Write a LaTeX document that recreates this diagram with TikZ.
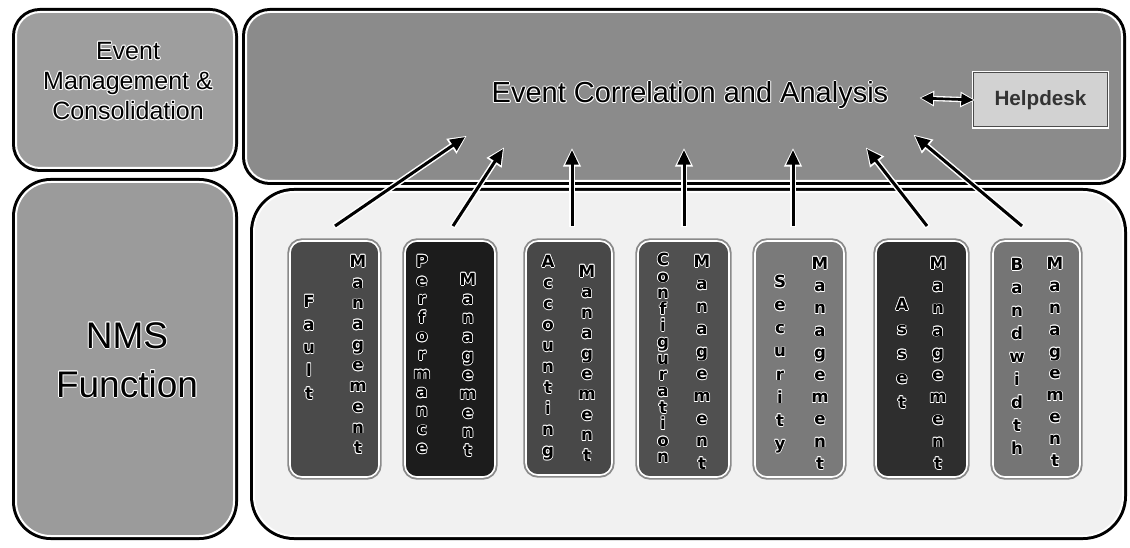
\documentclass[tikz,border=0pt]{standalone}
\usepackage{fontspec}
\setmainfont{Liberation Sans}
\newfontfamily\colfont{DejaVu Sans}
\usetikzlibrary{arrows.meta,fit}
\definecolor{emcfill}{HTML}{9E9E9E}
\definecolor{ecafill}{HTML}{8B8B8B}
\definecolor{nmsfill}{HTML}{9B9B9B}
\definecolor{areafill}{HTML}{F1F1F1}
\definecolor{helpfill}{HTML}{D2D2D2}
\definecolor{cfault}{HTML}{4A4A4A}
\definecolor{cperf}{HTML}{1C1C1C}
\definecolor{cacc}{HTML}{484848}
\definecolor{cconf}{HTML}{505050}
\definecolor{csec}{HTML}{7A7A7A}
\definecolor{casset}{HTML}{2E2E2E}
\definecolor{cband}{HTML}{757575}
\definecolor{colrim}{HTML}{8A8A8A}
\newdimen\halor \halor=0.75pt
\newcommand\hcp[3]{\rlap{\kern#1\halor\raise#2\halor\hbox{#3}}}
\newcommand\halo[1]{\leavevmode\rlap{\smash{\color{white}%
  \hcp{1}{0}{#1}\hcp{-1}{0}{#1}\hcp{0}{1}{#1}\hcp{0}{-1}{#1}%
  \hcp{.7}{.7}{#1}\hcp{-.7}{.7}{#1}\hcp{.7}{-.7}{#1}\hcp{-.7}{-.7}{#1}}}#1}
\ExplSyntaxOn
\NewDocumentCommand\vword{mm}{
  \vbox{\baselineskip=\dimexpr #1pt*3/4\relax
        \lineskip=0pt \lineskiplimit=-100pt
        \tl_map_inline:nn {#2} {\hbox to 2em{\hss\halo{##1}\hss}}}
}
\ExplSyntaxOff
\tikzset{
  panel/.style={inner sep=0pt, draw=white, line width=1.5pt,
    preaction={draw=black, line width=6pt}},
  colbox/.style={inner sep=0pt, draw=white, line width=1.2pt,
    preaction={draw=colrim, line width=4pt}, rounded corners=9pt},
  colword/.style={inner sep=0pt, anchor=north,
    font=\colfont\bfseries\fontsize{12.5}{12.5}\selectfont},
  halotip/.style={draw=white, line width=4.5pt,
    -{Triangle[length=14pt,width=12.5pt]}, shorten >=-1.6pt, shorten <=-1pt},
  blacktip/.style={draw=black, line width=2.25pt,
    -{Triangle[length=11pt,width=9.5pt]}},
}
\begin{document}
\begin{tikzpicture}[x=0.75pt,y=-0.75pt]
\useasboundingbox[fill=white] (0,0) rectangle (1130,548);
% big panels
\node[panel, fill=emcfill, rounded corners=18pt, fit={(16,12) (234,168)}] (emc) {};
\node[panel, fill=ecafill, rounded corners=18pt, fit={(246,12) (1122,181)}] (eca) {};
\node[panel, fill=nmsfill, rounded corners=26pt, fit={(16,182) (234,536)}] (nms) {};
\node[panel, fill=areafill, rounded corners=30pt, fit={(254,192) (1123,536)}] (area) {};
% panel texts
\node[align=center, font=\fontsize{18.75}{22.5}\selectfont] (emct) at (128,81)
  {\halo{Event}\\\halo{Management \&}\\\halo{Consolidation}};
\node[align=center, font=\fontsize{27.75}{36.75}\selectfont] (nmst) at (127,360)
  {\halo{NMS}\\\halo{Function}};
\node[anchor=base, inner sep=0pt, font=\fontsize{21.75}{26}\selectfont] (ecat) at (690,103)
  {\halo{Event Correlation and Analysis}};
\node[inner sep=0pt, fill=helpfill, draw=black!70, line width=0.75pt,
  preaction={draw=white, line width=3pt},
  minimum width=100pt, minimum height=40.5pt,
  font=\bfseries\fontsize{15.5}{16}\selectfont, text=black!80] (help) at (1040.5,100) {Helpdesk};
% columns
\node[colbox, fill=cfault, fit={(290,241) (379,477)}] (fault) {};
\node[colbox, fill=cperf,  fit={(405,241) (495,477)}] (perf) {};
\node[colbox, fill=cacc,   fit={(526,241) (612,475)}] (acc) {};
\node[colbox, fill=cconf,  fit={(638,241) (729,477)}] (conf) {};
\node[colbox, fill=csec,   fit={(755,241) (844,477)}] (sec) {};
\node[colbox, fill=casset, fit={(876,241) (967,477)}] (asset) {};
\node[colbox, fill=cband,  fit={(993,241) (1080,477)}] (band) {};
% column words
\begingroup
\halor=0.6pt
\node[colword] (w1a) at (309,295) {\vword{23}{Fault}};
\node[colword] (w1b) at (358,255) {\vword{20.7}{Management}};
\node[colword] (w2a) at (422,255) {\vword{18.6}{Performance}};
\node[colword] (w2b) at (468,273) {\vword{19}{Management}};
\node[colword] (w3a) at (548,255) {\vword{21}{Accounting}};
\node[colword] (w3b) at (587,265) {\vword{20.4}{Management}};
\node[colword] (w4a) at (663,253) {\vword{16.4}{Configuration}};
\node[colword] (w4b) at (702,255) {\vword{22.4}{Management}};
\node[colword] (w5a) at (780,275) {\vword{23.1}{Security}};
\node[colword] (w5b) at (820,257) {\vword{22.2}{Management}};
\node[colword] (w6a) at (902,298) {\vword{24.5}{Asset}};
\node[colword] (w6b) at (938,257) {\vword{22.2}{Management}};
\node[colword] (w7a) at (1017,258) {\vword{23}{Bandwidth}};
\node[colword] (w7b) at (1055,257) {\vword{21.9}{Management}};
\endgroup
% arrow ends
\coordinate (s1) at (335,226); \coordinate (e1) at (465,137);
\coordinate (s2) at (453,226); \coordinate (e2) at (503,149);
\coordinate (s3) at (572,226); \coordinate (e3) at (572,150);
\coordinate (s4) at (684,226); \coordinate (e4) at (684,150);
\coordinate (s5) at (793,226); \coordinate (e5) at (793,150);
\coordinate (s6) at (927,226); \coordinate (e6) at (867,149);
\coordinate (s7) at (1022,226); \coordinate (e7) at (915,136);
\foreach \i in {1,...,7}{
  \draw[halotip] (s\i) -- (e\i);
  \draw[blacktip] (s\i) -- (e\i);
}
\coordinate (dl) at (921,98);
\draw[draw=white, line width=4pt, {Triangle[length=11pt,width=11pt]}-{Triangle[length=11pt,width=11pt]},
  shorten >=-1.2pt, shorten <=-1.2pt] (dl) -- (help.west);
\draw[draw=black, line width=2pt, {Triangle[length=9pt,width=8.5pt]}-{Triangle[length=9pt,width=8.5pt]}] (dl) -- (help.west);
\end{tikzpicture}
\end{document}
